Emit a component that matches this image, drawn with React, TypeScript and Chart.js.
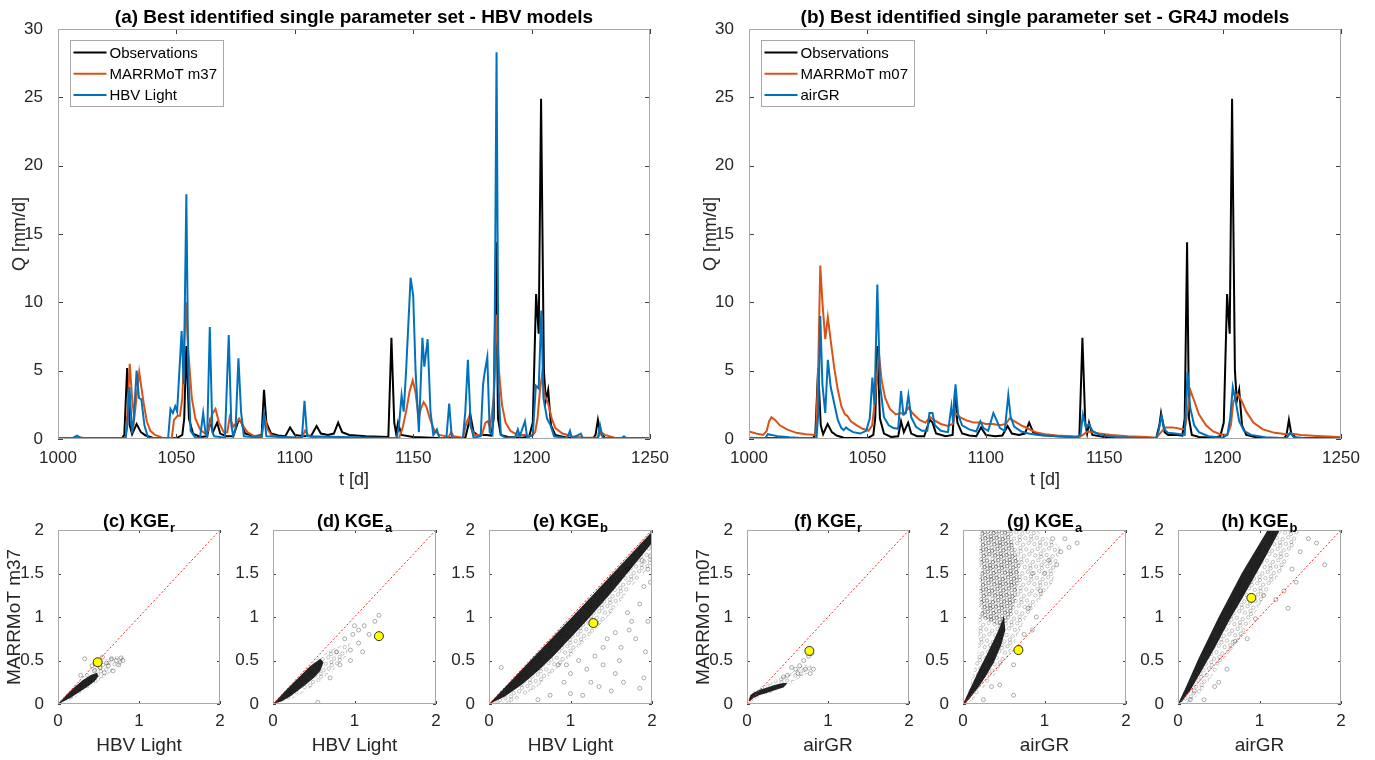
import React, { useEffect, useRef } from "react";
import { Chart, registerables } from "chart.js";
Chart.register(...registerables);

type Pt = [number, number];

const PAGE_W = 1375;
const PAGE_H = 760;
const SANS = '"Liberation Sans", Arial, Helvetica, sans-serif';
const TICK_TEXT = "#262626";
const BOX = "#a8a8a8";
const TICK_MARK = "#404040";
const C_OBS = "#000000";
const C_MAR = "#D95319";
const C_REF = "#0072BD";

// ---------------- time series (t [d], Q [mm/d]) ----------------
const obsSeries: Pt[] = [
  [1000, 0.05], [1027, 0.05], [1028, 0.3], [1029.2, 5.2], [1030.3, 1.0], [1031.3, 0.35], [1033.2, 1.1], [1035, 0.5],
  [1037, 0.25], [1040, 0.1], [1050, 0.05], [1052.5, 0.3], [1053.3, 1.5], [1054.2, 6.8], [1055.3, 1.5], [1057, 0.4],
  [1060, 0.15], [1063, 0.2], [1064.2, 1.3], [1065.4, 0.5], [1067.2, 1.2], [1068.5, 0.4], [1071, 0.2], [1074, 0.2],
  [1076.3, 1.4], [1077.5, 1.2], [1079, 0.4], [1083, 0.2], [1086, 0.3], [1087, 3.6], [1088, 1.2], [1090, 0.4],
  [1093, 0.25], [1096, 0.2], [1098, 0.85], [1100, 0.3], [1104, 0.2], [1107, 0.25], [1109.2, 0.95], [1111, 0.4],
  [1114, 0.3], [1116.5, 0.4], [1118.3, 1.2], [1120, 0.5], [1123, 0.3], [1130, 0.2], [1139.5, 0.15], [1140.8, 7.4],
  [1142, 1.2], [1142.8, 0.4], [1143.6, 1.2], [1145, 0.3], [1150, 0.15], [1160, 0.08], [1172, 0.1], [1173.3, 1.0],
  [1174, 1.9], [1175.5, 0.5], [1177, 0.3], [1181, 0.3], [1183, 0.25], [1184, 1.5], [1185, 14.4], [1185.8, 1.5],
  [1187, 0.3], [1190, 0.15], [1196, 0.1], [1199, 0.2], [1200.5, 1.2], [1201.9, 10.6], [1203, 7.7], [1204, 24.9],
  [1205.2, 5], [1206, 2.8], [1207, 3.6], [1208.2, 1.0], [1210, 0.3], [1215, 0.1], [1226, 0.05], [1227, 0.3],
  [1228, 1.4], [1229, 0.4], [1231, 0.1], [1250, 0.05],
];

const m37Series: Pt[] = [
  [1000, 0.05], [1007, 0.05], [1008.5, 0.12], [1012, 0.05], [1028.6, 0.05], [1029.5, 2.5], [1030.3, 5.5], [1031.3, 3],
  [1032.2, 1.5], [1034.3, 4.9], [1035.2, 3.8], [1036.2, 2.6], [1037.5, 1.3], [1039, 0.6], [1041, 0.3], [1044, 0.1],
  [1048, 0.05], [1049, 1.4], [1050.5, 1.7], [1051.5, 1.7], [1052.5, 3], [1054, 10.0], [1055, 6.5], [1056.5, 3],
  [1058, 1.5], [1060, 0.7], [1062, 0.4], [1063.5, 0.6], [1065, 1.8], [1066.5, 2.2], [1068, 1.2], [1070, 0.5],
  [1071.5, 0.5], [1072.5, 1.6], [1074, 0.9], [1075.5, 1.2], [1076.5, 1.5], [1078, 1.0], [1080, 0.5], [1083, 0.2],
  [1086, 0.2], [1087.2, 1.7], [1088.5, 0.7], [1090, 0.3], [1094, 0.1], [1103, 0.1], [1104.3, 0.6], [1106, 0.2],
  [1110, 0.05], [1144, 0.05], [1145.5, 0.8], [1147, 2], [1148.5, 3.5], [1149.8, 4.3], [1151, 3.4], [1152.3, 1.5],
  [1153.2, 2.2], [1154.4, 2.7], [1155.5, 2.4], [1157, 1.5], [1159, 0.6], [1161, 0.3], [1165, 0.15], [1166, 0.5],
  [1167, 0.2], [1171, 0.1], [1172.5, 1.2], [1173.3, 1.5], [1174.5, 0.8], [1176, 0.3], [1179, 0.3], [1180.5, 1.2],
  [1181.5, 1.3], [1182.5, 0.8], [1184, 3], [1185.2, 9.1], [1186.2, 5], [1187.5, 2.5], [1189, 1.2], [1191, 0.6],
  [1194, 0.3], [1197, 0.3], [1200, 0.2], [1201.5, 0.5], [1202.5, 1.5], [1203.5, 3.5], [1204.4, 4.7], [1205.5, 3.2],
  [1207, 2.6], [1208.5, 1.5], [1210, 0.8], [1213, 0.4], [1217, 0.2], [1222, 0.1], [1228, 0.1], [1229.3, 0.5],
  [1231, 0.3], [1235, 0.1], [1250, 0.05],
];

const hbvSeries: Pt[] = [
  [1000, 0.05], [1006, 0.05], [1008, 0.25], [1010, 0.05], [1028.5, 0.05], [1029.3, 1.0], [1030.2, 3.8], [1031.3, 0.4],
  [1032, 1.5], [1033.2, 5.0], [1034.2, 3.0], [1035.2, 2.9], [1036.5, 1.0], [1038, 0.1], [1046.5, 0.05], [1047.5, 2.2],
  [1048.5, 1.9], [1049.5, 2.4], [1050.3, 2.0], [1052.2, 7.9], [1053.1, 4.0], [1054.2, 17.9], [1055, 5], [1056, 0.6],
  [1058, 0.1], [1060, 0.1], [1061.3, 1.9], [1062.3, 0.4], [1063, 0.2], [1064.1, 8.2], [1065.2, 0.5], [1066, 0.2],
  [1070.5, 0.1], [1072.1, 7.6], [1073.2, 1.0], [1074, 0.2], [1075, 0.8], [1076.2, 5.9], [1077.3, 2.0], [1078.5, 0.2],
  [1086, 0.1], [1087, 1.8], [1088, 0.2], [1103, 0.1], [1104.1, 2.8], [1105.2, 0.2], [1143, 0.05], [1144, 1.0],
  [1145.1, 3.2], [1146, 2.0], [1147, 5], [1148.9, 11.8], [1150, 10.5], [1151, 5], [1152.4, 0.5], [1153.9, 7.4],
  [1154.7, 5.3], [1156.1, 7.3], [1157.3, 2], [1158.5, 0.3], [1160, 0.7], [1161, 0.1], [1164, 0.05], [1165.2, 2.6],
  [1166.3, 0.1], [1171, 0.05], [1172, 2], [1173.1, 5.8], [1174.3, 1.0], [1175.5, 0.1], [1178.5, 0.2], [1179.5, 4.0],
  [1180.2, 4.9], [1181.3, 6.0], [1182.3, 0.5], [1183.5, 0.3], [1184.3, 5], [1185.2, 28.3], [1186, 4], [1187, 0.3],
  [1189, 0.1], [1193, 0.1], [1194.2, 0.7], [1195, 0.2], [1197.2, 1.3], [1198.1, 0.1], [1200.5, 0.3], [1201.8, 3.9],
  [1203, 3.7], [1204.1, 9.4], [1205, 3.0], [1206.5, 1.5], [1208, 1.0], [1209.5, 0.2], [1215, 0.05], [1216.2, 0.6],
  [1217, 0.05], [1220.8, 0.4], [1221.6, 0.05], [1228, 0.1], [1228.9, 1.0], [1230, 0.1], [1238, 0.05], [1239, 0.2],
  [1240, 0.05], [1250, 0.05],
];

const m07Series: Pt[] = [
  [1000, 0.55], [1003, 0.4], [1006, 0.3], [1007.5, 0.6], [1008.5, 1.3], [1009.5, 1.6], [1011, 1.4], [1013, 1.0],
  [1016, 0.7], [1020, 0.45], [1024, 0.35], [1028.3, 0.3], [1029.2, 5], [1030.1, 12.7], [1031, 10], [1032.2, 7.3],
  [1033.3, 8.9], [1034.5, 7.2], [1036, 5.2], [1037.5, 3.6], [1039, 2.4], [1040.5, 1.8], [1041.5, 1.7], [1043, 1.3],
  [1045.5, 1.0], [1048, 0.75], [1050.5, 0.6], [1052, 1.0], [1053.3, 3.0], [1054.8, 6.4], [1056, 4.3], [1057.5, 3.0],
  [1059.5, 2.2], [1062, 1.8], [1064.2, 1.9], [1065.5, 1.8], [1067.3, 2.3], [1069, 1.9], [1072, 1.4], [1074.5, 1.2],
  [1076.5, 1.6], [1078, 1.4], [1081, 1.1], [1084, 0.95], [1086, 1.1], [1087.2, 1.9], [1089, 1.6], [1092, 1.35],
  [1095, 1.2], [1098, 1.2], [1100, 1.1], [1103, 1.1], [1106, 1.0], [1108.5, 1.1], [1110, 1.5], [1112, 1.3],
  [1115, 1.0], [1118, 0.75], [1121, 0.5], [1125, 0.35], [1130, 0.25], [1136, 0.2], [1139.5, 0.15], [1141, 0.3],
  [1143, 0.55], [1145, 0.5], [1148, 0.4], [1153, 0.3], [1160, 0.2], [1168, 0.15], [1172, 0.1], [1173.5, 0.4],
  [1175, 0.7], [1176, 0.85], [1179, 0.85], [1182, 0.75], [1184, 0.7], [1185.2, 2], [1186.3, 3.6], [1188, 2.8],
  [1190, 1.8], [1193, 1.0], [1196, 0.55], [1199, 0.35], [1202, 0.3], [1203.5, 1.0], [1204.5, 2.7], [1206.3, 3.3],
  [1208, 2.8], [1210, 2.0], [1213, 1.2], [1217, 0.7], [1222, 0.45], [1227, 0.35], [1229, 0.4], [1233, 0.3],
  [1240, 0.22], [1245, 0.18], [1250, 0.12],
];

const airgrSeries: Pt[] = [
  [1000, 0.1], [1004, 0.08], [1007, 0.1], [1008, 0.35], [1009.5, 0.3], [1012, 0.2], [1017, 0.12], [1022, 0.08],
  [1028.5, 0.05], [1029.3, 2], [1030.1, 9.0], [1031, 4], [1032.2, 1.9], [1033.3, 5.8], [1034.5, 3.8], [1036, 2.6],
  [1037.5, 1.4], [1039, 0.8], [1040, 0.65], [1041, 0.85], [1042, 0.7], [1044, 0.5], [1047, 0.4], [1049.5, 0.6],
  [1051, 1.5], [1052.1, 4.5], [1053, 2.5], [1054.2, 11.3], [1055.3, 4], [1057, 1.6], [1059, 1.0], [1061, 0.8],
  [1063, 0.75], [1064.2, 3.5], [1065.2, 1.8], [1066.2, 1.9], [1067.3, 3.2], [1068.5, 1.6], [1070.5, 0.9], [1073, 0.6],
  [1075.3, 0.6], [1076.2, 1.9], [1077.5, 1.9], [1078.5, 1.0], [1081, 0.6], [1084, 0.5], [1085.5, 2.4], [1086.2, 1.2],
  [1087.2, 4.0], [1088.3, 1.8], [1090, 1.0], [1093, 0.7], [1096, 0.55], [1097.7, 1.3], [1099, 0.8], [1101, 0.6],
  [1103.2, 1.9], [1104.5, 1.4], [1106, 0.8], [1108, 0.6], [1109.5, 3.2], [1110.5, 1.6], [1112, 0.9], [1115, 0.55],
  [1118, 0.4], [1122, 0.3], [1130, 0.2], [1138, 0.12], [1140, 0.3], [1141, 1.8], [1142.3, 0.8], [1143.5, 1.1],
  [1145, 0.6], [1148, 0.3], [1155, 0.15], [1165, 0.08], [1172, 0.05], [1173, 0.6], [1174.2, 1.7], [1175.5, 0.7],
  [1177, 0.45], [1180, 0.4], [1182, 0.35], [1184, 0.3], [1185.2, 4.9], [1186.3, 2.3], [1188, 1.0], [1190, 0.5],
  [1194, 0.2], [1200, 0.1], [1202, 0.3], [1203.2, 1.5], [1204.3, 3.8], [1205.5, 2.8], [1207, 1.3], [1209, 0.6],
  [1212, 0.3], [1218, 0.12], [1227, 0.05], [1228.5, 0.45], [1230, 0.15], [1235, 0.05], [1250, 0.05],
];

// ---------------- KGE component scatter clouds (x: reference model, y: MARRMoT) ----------------
// dense core outline, stippled spread outline, sparse individual points, best parameter set
const cCore: Pt[] = [[0, 0], [0.1, 0.1], [0.2, 0.19], [0.3, 0.27], [0.4, 0.33], [0.48, 0.36], [0.5, 0.32], [0.45, 0.26], [0.35, 0.19], [0.25, 0.13], [0.15, 0.07], [0.05, 0.02]];
const cSpread: Pt[] = [[0, 0.01], [0.1, 0.1], [0.2, 0.2], [0.3, 0.3], [0.42, 0.42], [0.55, 0.5], [0.7, 0.55], [0.8, 0.55], [0.8, 0.48], [0.7, 0.4], [0.6, 0.33], [0.5, 0.26], [0.4, 0.19], [0.3, 0.13], [0.2, 0.07], [0.1, 0.02]];
const cSparse: Pt[] = [[0.33, 0.52], [0.28, 0.33], [0.42, 0.44], [0.55, 0.54], [0.6, 0.47], [0.66, 0.52], [0.72, 0.5], [0.78, 0.53], [0.75, 0.45], [0.68, 0.38], [0.62, 0.44], [0.52, 0.42], [0.57, 0.36], [0.45, 0.38], [0.8, 0.5]];
const cBest: Pt[] = [[0.49, 0.48]];

const dCore: Pt[] = [[0, 0], [0.15, 0.15], [0.3, 0.29], [0.45, 0.43], [0.58, 0.52], [0.62, 0.48], [0.58, 0.38], [0.5, 0.3], [0.4, 0.22], [0.3, 0.15], [0.2, 0.08], [0.1, 0.03]];
const dSpread: Pt[] = [[0, 0], [0.2, 0.2], [0.4, 0.39], [0.55, 0.53], [0.7, 0.62], [0.85, 0.68], [0.95, 0.7], [0.9, 0.55], [0.75, 0.4], [0.6, 0.28], [0.45, 0.18], [0.3, 0.09], [0.15, 0.03]];
const dSparse: Pt[] = [[1.3, 1.02], [1.25, 0.95], [1.12, 0.9], [1.05, 0.85], [0.98, 0.8], [1.18, 0.8], [1.05, 0.7], [0.95, 0.62], [0.88, 0.75], [0.78, 0.6], [1.1, 0.6], [0.82, 0.45], [0.7, 0.3], [0.55, 0.02], [0.95, 0.5], [1.0, 0.9]];
const dBest: Pt[] = [[1.3, 0.78]];

const eCore: Pt[] = [[0, 0], [0.5, 0.49], [1, 0.98], [1.5, 1.48], [2, 1.98], [2, 1.85], [1.8, 1.62], [1.5, 1.28], [1.2, 0.96], [1.0, 0.76], [0.8, 0.56], [0.6, 0.38], [0.4, 0.22], [0.2, 0.09], [0.05, 0.02]];
const eSpread: Pt[] = [[0, 0], [2, 2], [2, 1.6], [1.8, 1.4], [1.5, 1.05], [1.2, 0.75], [1.0, 0.55], [0.8, 0.38], [0.6, 0.2], [0.4, 0.08], [0.25, 0]];
const eSparse: Pt[] = [[1.95, 1.55], [1.9, 1.35], [1.98, 1.4], [1.85, 1.15], [1.7, 1.05], [1.75, 0.95], [1.9, 0.3], [1.85, 0.18], [1.6, 0.5], [1.55, 0.35], [1.4, 0.45], [1.3, 0.55], [1.45, 0.75], [1.55, 0.82], [1.62, 0.65], [1.2, 0.4], [1.1, 0.5], [1.0, 0.35], [0.95, 0.45], [0.85, 0.45], [1.35, 0.2], [1.15, 0.1], [1.0, 0.12], [0.6, 0.05], [0.15, 0.42], [0.75, 0.1], [1.5, 0.15], [1.72, 0.85], [1.92, 0.6], [1.8, 0.75], [1.65, 0.25], [1.25, 0.25], [0.92, 0.25], [1.4, 0.65], [1.98, 1.7], [1.88, 1.65], [1.95, 0.95], [1.7, 1.55]];
const eBest: Pt[] = [[1.28, 0.93]];

const fCore: Pt[] = [[0.02, 0.04], [0.04, 0.1], [0.08, 0.13], [0.15, 0.16], [0.25, 0.19], [0.35, 0.22], [0.45, 0.24], [0.5, 0.24], [0.45, 0.19], [0.35, 0.16], [0.25, 0.13], [0.15, 0.1], [0.08, 0.07], [0.03, 0.03]];
const fSpread: Pt[] = [[0.02, 0.05], [0.1, 0.16], [0.25, 0.23], [0.4, 0.3], [0.55, 0.36], [0.7, 0.45], [0.8, 0.45], [0.8, 0.38], [0.65, 0.3], [0.5, 0.22], [0.35, 0.15], [0.2, 0.1], [0.05, 0.02]];
const fSparse: Pt[] = [[0.8, 0.58], [0.76, 0.55], [0.7, 0.5], [0.65, 0.44], [0.6, 0.4], [0.55, 0.42], [0.5, 0.33], [0.82, 0.4], [0.78, 0.35], [0.72, 0.4], [0.45, 0.31], [0.63, 0.35]];
const fBest: Pt[] = [[0.77, 0.61]];

const gCore: Pt[] = [[0, 0], [0.08, 0.16], [0.2, 0.4], [0.32, 0.62], [0.42, 0.82], [0.48, 0.95], [0.5, 1.02], [0.52, 0.85], [0.47, 0.68], [0.38, 0.48], [0.28, 0.32], [0.18, 0.18], [0.08, 0.06], [0.02, 0]];
const gMid: Pt[] = [[0.22, 1.0], [0.22, 2.0], [0.55, 2.0], [0.7, 1.6], [0.65, 1.2], [0.55, 0.95], [0.45, 0.9]];
const gSpread: Pt[] = [[0, 0], [0.1, 0.25], [0.18, 0.6], [0.2, 1.2], [0.2, 2.0], [0.55, 2.0], [0.9, 2.0], [1.2, 1.8], [1.1, 1.4], [0.9, 1.15], [0.75, 0.95], [0.65, 0.75], [0.55, 0.55], [0.4, 0.35], [0.25, 0.18], [0.1, 0.03]];
const gSparse: Pt[] = [[1.4, 1.85], [1.3, 1.8], [1.2, 1.75], [1.15, 1.6], [1.05, 1.65], [1.0, 1.5], [0.95, 1.3], [0.9, 1.0], [0.85, 0.85], [0.75, 0.8], [0.62, 0.45], [0.45, 0.22], [0.62, 0.1], [0.25, 0.05], [0.35, 0.2], [0.7, 0.65], [1.25, 1.9], [0.8, 1.1], [0.85, 1.5], [1.1, 1.9]];
const gBest: Pt[] = [[0.68, 0.62]];

const hCore: Pt[] = [[0, 0], [0.1, 0.2], [0.25, 0.52], [0.5, 1.0], [0.78, 1.5], [1.1, 2.0], [1.25, 2.0], [1.08, 1.7], [0.96, 1.5], [0.78, 1.2], [0.64, 0.98], [0.46, 0.66], [0.3, 0.4], [0.16, 0.17], [0.05, 0.03]];
const hSpread: Pt[] = [[0, 0], [0.5, 1.0], [1.1, 2.0], [1.5, 2.0], [1.4, 1.75], [1.25, 1.5], [1.1, 1.3], [0.95, 1.05], [0.8, 0.8], [0.6, 0.55], [0.4, 0.3], [0.25, 0.1], [0.1, 0]];
const hSparse: Pt[] = [[1.3, 1.3], [1.4, 1.55], [1.8, 1.6], [1.5, 1.75], [1.6, 1.9], [1.2, 1.2], [1.05, 1.25], [0.95, 0.98], [0.7, 0.72], [0.5, 0.25], [0.32, 0.05], [0.45, 0.2], [1.45, 1.4], [1.7, 1.85], [1.35, 1.1], [0.85, 0.75], [0.6, 0.4], [0.2, 0.15], [0.15, 0.05]];
const hBest: Pt[] = [[0.9, 1.22]];

const identityLine: Pt[] = [[0, 0], [2, 2]];

const toXY = (a: Pt[]) => a.map(([x, y]) => ({ x, y }));

// stipple texture (a visual fill style for the spread part of a cloud, not data)
function makeStipple(count: number, alpha: number): CanvasPattern | string {
  const size = 40;
  const tile = document.createElement("canvas");
  tile.width = size;
  tile.height = size;
  const c = tile.getContext("2d");
  const fallback = `rgba(0,0,0,${alpha * 0.5})`;
  if (!c) return fallback;
  c.strokeStyle = `rgba(0,0,0,${alpha})`;
  c.lineWidth = 0.7;
  const g = 1.32471795724474602596;
  const a1 = 1 / g;
  const a2 = 1 / (g * g);
  for (let i = 0; i < count; i++) {
    const x = ((0.5 + a1 * i) % 1) * size;
    const y = ((0.5 + a2 * i) % 1) * size;
    for (const dx of [-size, 0, size]) {
      for (const dy of [-size, 0, size]) {
        c.beginPath();
        c.arc(x + dx, y + dy, 1.7, 0, Math.PI * 2);
        c.stroke();
      }
    }
  }
  return c.createPattern(tile, "repeat") || fallback;
}

// ---------------- MATLAB-like axes decoration plugin ----------------
const matlabPlugin = {
  id: "matlab",
  afterDatasetsDraw(chart: any, _args: any, o: any) {
    const ctx = chart.ctx;
    const a = chart.chartArea;
    const xs = chart.scales.x;
    const ys = chart.scales.y;
    ctx.save();
    ctx.lineWidth = 1;
    ctx.strokeStyle = TICK_MARK;
    ctx.beginPath();
    for (const t of xs.ticks) {
      const p = Math.round(xs.getPixelForValue(t.value)) + 0.5;
      ctx.moveTo(p, a.bottom);
      ctx.lineTo(p, a.bottom - o.tickLen);
      ctx.moveTo(p, a.top);
      ctx.lineTo(p, a.top + o.tickLen);
    }
    for (const t of ys.ticks) {
      const p = Math.round(ys.getPixelForValue(t.value)) + 0.5;
      ctx.moveTo(a.left, p);
      ctx.lineTo(a.left + o.tickLen, p);
      ctx.moveTo(a.right, p);
      ctx.lineTo(a.right - o.tickLen, p);
    }
    ctx.stroke();
    ctx.strokeStyle = BOX;
    ctx.strokeRect(Math.round(a.left) + 0.5, Math.round(a.top) + 0.5, Math.round(a.right - a.left) - 1, Math.round(a.bottom - a.top) - 1);

    // title with optional subscript
    ctx.fillStyle = "#000";
    ctx.textBaseline = "alphabetic";
    ctx.textAlign = "left";
    ctx.font = `bold ${o.titleSize}px ${SANS}`;
    const w1 = ctx.measureText(o.title).width;
    let w2 = 0;
    if (o.sub) {
      ctx.font = `bold ${o.subSize}px ${SANS}`;
      w2 = ctx.measureText(o.sub).width + 1;
    }
    const x0 = (a.left + a.right) / 2 - (w1 + w2) / 2;
    const yb = a.top - o.titleGap;
    ctx.font = `bold ${o.titleSize}px ${SANS}`;
    ctx.fillText(o.title, x0, yb);
    if (o.sub) {
      ctx.font = `bold ${o.subSize}px ${SANS}`;
      ctx.fillText(o.sub, x0 + w1 + 1, yb + o.subDrop);
    }

    // legend box
    if (o.legend) {
      const items = chart.data.datasets.filter((d: any) => d.label);
      ctx.font = `${o.legendSize}px ${SANS}`;
      const tw = Math.max(...items.map((d: any) => ctx.measureText(d.label).width));
      const bx = Math.round(a.left + 12) + 0.5;
      const by = Math.round(a.top + 11) + 0.5;
      const row = 21.3;
      const bw = Math.round(39 + tw + 6);
      const bh = 66;
      ctx.fillStyle = "#fff";
      ctx.fillRect(bx, by, bw, bh);
      ctx.strokeStyle = BOX;
      ctx.strokeRect(bx, by, bw, bh);
      ctx.textBaseline = "middle";
      items.forEach((d: any, i: number) => {
        const cy = by + 12 + row * i;
        ctx.strokeStyle = d.borderColor;
        ctx.lineWidth = 2;
        ctx.beginPath();
        ctx.moveTo(bx + 3, cy);
        ctx.lineTo(bx + 36, cy);
        ctx.stroke();
        ctx.fillStyle = "#000";
        ctx.fillText(d.label, bx + 39, cy + 1);
      });
    }
    ctx.restore();
  },
};

type SeriesSpec = { label: string; color: string; data: Pt[] };

function seriesConfig(area: number[], title: string, series: SeriesSpec[]) {
  const [L, T, R, B] = area;
  const WY = 58;
  const HX = 55;
  return {
    type: "line",
    data: {
      datasets: series.map((s, i) => ({
        label: s.label,
        data: toXY(s.data),
        borderColor: s.color,
        backgroundColor: s.color,
        borderWidth: 2,
        pointRadius: 0,
        tension: 0,
        fill: false,
        order: series.length - i,
      })),
    },
    options: {
      responsive: false,
      animation: false,
      devicePixelRatio: 1,
      layout: { padding: { left: L - WY, top: T, right: PAGE_W - R, bottom: PAGE_H - B - HX } },
      plugins: {
        legend: { display: false },
        tooltip: { enabled: false },
        matlab: { tickLen: 5, title, titleSize: 19, titleGap: 6, legend: true, legendSize: 15 },
      },
      scales: {
        x: {
          type: "linear",
          min: 1000,
          max: 1250,
          afterFit: (s: any) => { s.height = HX; },
          grid: { display: false },
          border: { display: false },
          ticks: { stepSize: 50, autoSkip: false, maxRotation: 0, padding: 1, color: TICK_TEXT, font: { family: SANS, size: 17 }, callback: (v: any) => String(v) },
          title: { display: true, text: "t [d]", color: TICK_TEXT, font: { family: SANS, size: 18 }, padding: { top: 0, bottom: 3 } },
        },
        y: {
          type: "linear",
          min: 0,
          max: 30,
          afterFit: (s: any) => { s.width = WY; },
          grid: { display: false },
          border: { display: false },
          ticks: { stepSize: 5, autoSkip: false, padding: 7, color: TICK_TEXT, font: { family: SANS, size: 17 }, callback: (v: any) => String(v) },
          title: { display: true, text: "Q [mm/d]", color: TICK_TEXT, font: { family: SANS, size: 18 }, padding: { top: 9, bottom: 0 } },
        },
      },
    },
    plugins: [matlabPlugin],
  };
}

type CloudSpec = { core: Pt[]; spread: Pt[]; mid?: Pt[]; sparse: Pt[]; best: Pt[] };

function scatterConfig(area: number[], title: string, sub: string, xLabel: string, yLabel: string, c: CloudSpec) {
  const [L, T, R, B] = area;
  const WY = yLabel ? 57 : 45;
  const HX = 56;
  const poly = (d: Pt[], color: any, order: number) => ({
    data: toXY(d), showLine: true, fill: "shape", backgroundColor: color, borderColor: "rgba(0,0,0,0)", borderWidth: 0, pointRadius: 0, order,
  });
  const datasets: any[] = [poly(c.spread, makeStipple(60, 0.32), 6)];
  if (c.mid) datasets.push(poly(c.mid, makeStipple(150, 0.3), 5));
  datasets.push(poly(c.core, "rgba(0,0,0,0.86)", 4));
  datasets.push({ data: toXY(c.sparse), showLine: false, pointRadius: 2, pointBorderWidth: 0.7, pointBorderColor: "rgba(0,0,0,0.45)", pointBackgroundColor: "rgba(0,0,0,0)", order: 3 });
  datasets.push({ data: toXY(identityLine), showLine: true, borderColor: "#ff2020", borderWidth: 1, borderDash: [2, 2], pointRadius: 0, order: 2 });
  datasets.push({ data: toXY(c.best), showLine: false, pointRadius: 4.5, pointBorderWidth: 0.8, pointBorderColor: "#000", pointBackgroundColor: "#ffff00", order: 1 });
  return {
    type: "scatter",
    data: { datasets },
    options: {
      responsive: false,
      animation: false,
      devicePixelRatio: 1,
      layout: { padding: { left: L - WY, top: T, right: PAGE_W - R, bottom: PAGE_H - B - HX } },
      plugins: {
        legend: { display: false },
        tooltip: { enabled: false },
        matlab: { tickLen: 3, title, sub, titleSize: 18, subSize: 13, subDrop: 5, titleGap: 3, legend: false },
      },
      scales: {
        x: {
          type: "linear",
          min: 0,
          max: 2,
          afterFit: (s: any) => { s.height = HX; },
          grid: { display: false },
          border: { display: false },
          ticks: { stepSize: 1, autoSkip: false, maxRotation: 0, padding: -1, color: TICK_TEXT, font: { family: SANS, size: 17 }, callback: (v: any) => String(v) },
          title: { display: true, text: xLabel, color: TICK_TEXT, font: { family: SANS, size: 19 }, padding: { top: 0, bottom: 3 } },
        },
        y: {
          type: "linear",
          min: 0,
          max: 2,
          afterFit: (s: any) => { s.width = WY; },
          grid: { display: false },
          border: { display: false },
          ticks: { stepSize: 0.5, autoSkip: false, padding: 6, color: TICK_TEXT, font: { family: SANS, size: 17 }, callback: (v: any) => String(v) },
          title: { display: !!yLabel, text: yLabel, color: TICK_TEXT, font: { family: SANS, size: 19 }, padding: { top: 2, bottom: 0 } },
        },
      },
    },
    plugins: [matlabPlugin],
  };
}

const builders: (() => any)[] = [
  () => seriesConfig([58, 29, 650, 439], "(a) Best identified single parameter set - HBV models", [
    { label: "Observations", color: C_OBS, data: obsSeries },
    { label: "MARRMoT m37", color: C_MAR, data: m37Series },
    { label: "HBV Light", color: C_REF, data: hbvSeries },
  ]),
  () => seriesConfig([749, 29, 1341, 439], "(b) Best identified single parameter set - GR4J models", [
    { label: "Observations", color: C_OBS, data: obsSeries },
    { label: "MARRMoT m07", color: C_MAR, data: m07Series },
    { label: "airGR", color: C_REF, data: airgrSeries },
  ]),
  () => scatterConfig([58, 530, 220, 704], "(c) KGE", "r", "HBV Light", "MARRMoT m37", { core: cCore, spread: cSpread, sparse: cSparse, best: cBest }),
  () => scatterConfig([273, 530, 436, 704], "(d) KGE", "a", "HBV Light", "", { core: dCore, spread: dSpread, sparse: dSparse, best: dBest }),
  () => scatterConfig([489, 530, 652, 704], "(e) KGE", "b", "HBV Light", "", { core: eCore, spread: eSpread, sparse: eSparse, best: eBest }),
  () => scatterConfig([747, 530, 909, 704], "(f) KGE", "r", "airGR", "MARRMoT m07", { core: fCore, spread: fSpread, sparse: fSparse, best: fBest }),
  () => scatterConfig([963, 530, 1126, 704], "(g) KGE", "a", "airGR", "", { core: gCore, spread: gSpread, mid: gMid, sparse: gSparse, best: gBest }),
  () => scatterConfig([1178, 530, 1341, 704], "(h) KGE", "b", "airGR", "", { core: hCore, spread: hSpread, sparse: hSparse, best: hBest }),
];

function Panel({ build }: { build: () => any }) {
  const ref = useRef<HTMLCanvasElement>(null);
  useEffect(() => {
    const chart = new Chart(ref.current as HTMLCanvasElement, build());
    return () => chart.destroy();
  }, [build]);
  return (
    <canvas
      ref={ref}
      width={PAGE_W}
      height={PAGE_H}
      style={{ position: "absolute", left: 0, top: 0, width: PAGE_W, height: PAGE_H }}
    />
  );
}

export default function App() {
  useEffect(() => {
    document.body.style.margin = "0";
    document.body.style.background = "#fff";
  }, []);
  return (
    <div style={{ position: "relative", width: PAGE_W, height: PAGE_H, background: "#fff", overflow: "hidden" }}>
      {builders.map((b, i) => (
        <Panel key={i} build={b} />
      ))}
    </div>
  );
}
